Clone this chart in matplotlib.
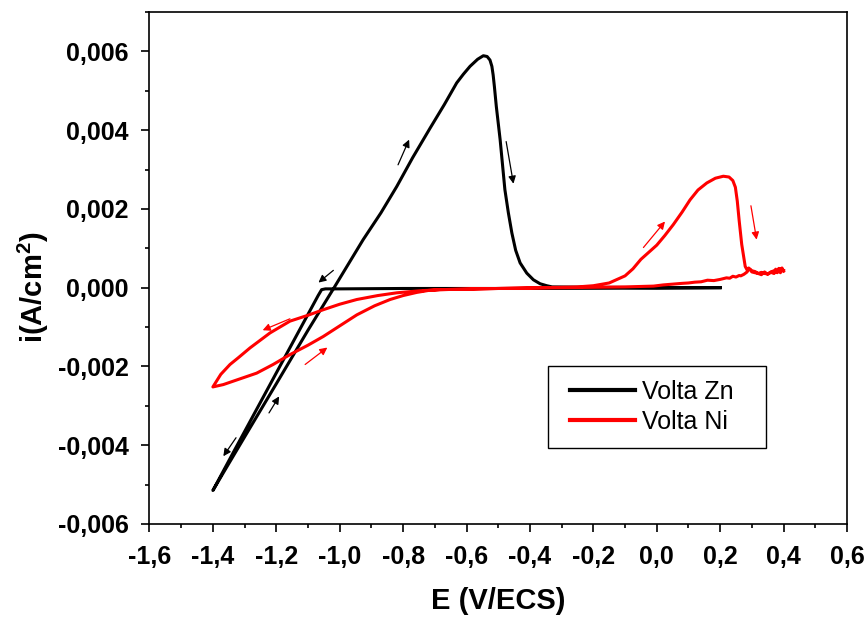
import matplotlib
matplotlib.use("Agg")
import matplotlib.pyplot as plt
from matplotlib.ticker import MultipleLocator, FuncFormatter
from matplotlib.lines import Line2D
from matplotlib.legend_handler import HandlerLine2D

plt.rcParams['font.family'] = ['Liberation Sans', 'DejaVu Sans']
plt.rcParams['mathtext.fontset'] = 'custom'
plt.rcParams['mathtext.rm'] = 'Liberation Sans:bold'
plt.rcParams['mathtext.bf'] = 'Liberation Sans:bold'
plt.rcParams['mathtext.default'] = 'bf'

# ---- Data: Volta Zn (black) ----
zn_E = [0.20, 0.00, -0.40, -0.80, -1.00, -1.045, -1.057, -1.068,
        -1.15, -1.25, -1.33, -1.40,
        -1.37, -1.30, -1.20, -1.10, -1.02, -0.926, -0.87, -0.82, -0.77, -0.715,
        -0.67, -0.631, -0.61, -0.589, -0.565, -0.547, -0.535, -0.526, -0.520,
        -0.516, -0.512, -0.506,
        -0.494, -0.479, -0.468, -0.457, -0.445, -0.431, -0.410, -0.389,
        -0.368, -0.347, -0.330, -0.20, 0.00, 0.20]
zn_i = [0.0, -0.00001, -0.00002, -0.00002, -0.00003, -0.00003, -0.00005, -0.00020,
        -0.00142, -0.00291, -0.00410, -0.00515,
        -0.00474, -0.00379, -0.00244, -0.00108, -0.00003, 0.00122, 0.00190, 0.00257,
        0.00330, 0.00405,
        0.00465, 0.00520, 0.00542, 0.00562, 0.00580, 0.00589, 0.00587, 0.00578,
        0.00562, 0.00540, 0.00510, 0.00460,
        0.00376, 0.00249, 0.00190, 0.00139, 0.00095, 0.00063, 0.00037, 0.00020,
        0.00010, 0.00005, 0.00002, 0.00001, 0.0, 0.0]

# ---- Data: Volta Ni (red) ----
ni_E = [0.40, 0.395, 0.39, 0.385, 0.38, 0.375, 0.37, 0.36, 0.35, 0.34, 0.33, 0.32,
        0.31, 0.30, 0.29, 0.285, 0.275, 0.265, 0.26, 0.25, 0.24, 0.23, 0.22, 0.20,
        0.18, 0.16, 0.14, 0.12, 0.10, 0.08, 0.05, 0.02, -0.01, -0.10, -0.30, -0.50,
        -0.684, -0.75, -0.82, -0.88, -0.946, -1.00, -1.052, -1.10, -1.157, -1.22,
        -1.283, -1.32, -1.346, -1.375, -1.40,
        -1.367, -1.32, -1.262, -1.21, -1.157, -1.10, -1.052, -1.00, -0.946, -0.89,
        -0.841, -0.80, -0.757, -0.72, -0.684, -0.50,
        -0.30, -0.25, -0.20, -0.15, -0.10, -0.075, -0.05, -0.025, 0.00, 0.025, 0.052,
        0.08, 0.105, 0.13, 0.158, 0.185, 0.21, 0.228, 0.240, 0.248, 0.254, 0.26,
        0.268, 0.279, 0.285, 0.294, 0.30, 0.31, 0.32, 0.33,
        0.34, 0.35, 0.36, 0.37, 0.38, 0.39, 0.40]
ni_i = [0.00042, 0.00050, 0.00038, 0.00049, 0.00040, 0.00047, 0.00036, 0.00039, 0.00034,
        0.00040, 0.00033, 0.00036, 0.00041, 0.00043, 0.00050, 0.00040, 0.00034, 0.00030,
        0.00031, 0.00027, 0.00029, 0.00024, 0.00025, 0.00021, 0.00018, 0.00019, 0.00015,
        0.00014, 0.00012, 0.00011, 0.00009, 0.00007, 0.00004, 0.00002, 0.0, -0.00002,
        -0.00005, -0.00008, -0.00013, -0.00020, -0.00030, -0.00042, -0.00056, -0.00070,
        -0.00085, -0.00115, -0.00153, -0.00178, -0.00195, -0.00220, -0.00252,
        -0.00246, -0.00233, -0.00217, -0.00195, -0.00170, -0.00146, -0.00124, -0.00097,
        -0.00069, -0.00046, -0.00030, -0.00020, -0.00012, -0.00007, -0.00005, -0.00002,
        0.00001, 0.00002, 0.00005, 0.00012, 0.00030, 0.00048, 0.00072, 0.00090, 0.00108,
        0.00132, 0.00160, 0.00192, 0.00223, 0.00248, 0.00266, 0.00278, 0.00283, 0.00281,
        0.00272, 0.00255, 0.00220, 0.00170, 0.00110, 0.00054, 0.00045, 0.00046, 0.00040,
        0.00038, 0.00036, 0.00039, 0.00036, 0.00035,
        0.00040, 0.00043, 0.00038, 0.00048, 0.00044]

# ---- Direction arrows: (tail E, tail i, head E, head i) ----
arrows_black = [(-0.816, 0.00312, -0.781, 0.00376),
                (-0.475, 0.00371, -0.452, 0.00264),
                (-1.020, 0.00044, -1.067, 0.00013),
                (-1.223, -0.00318, -1.191, -0.00276),
                (-1.327, -0.00381, -1.367, -0.00428)]
arrows_red = [(-1.157, -0.00079, -1.243, -0.00108),
              (-1.109, -0.00195, -1.039, -0.00152),
              (-0.042, 0.00102, 0.026, 0.00168),
              (0.297, 0.00208, 0.315, 0.00122)]

labels = ['Volta Zn', 'Volta Ni']
colors = ['black', '#ff0000']

fig = plt.figure(figsize=(8.64, 6.19), dpi=100)
ax = fig.add_axes([0.1730, 0.1535, 0.8073, 0.8271])

ax.plot(zn_E, zn_i, color=colors[0], lw=2.2, label=labels[0], solid_joinstyle='round')
ax.plot(ni_E, ni_i, color=colors[1], lw=2.2, label=labels[1], solid_joinstyle='round')

for arrs, c in ((arrows_black, colors[0]), (arrows_red, colors[1])):
    for (x0, y0, x1, y1) in arrs:
        ax.annotate('', xy=(x1, y1), xytext=(x0, y0),
                    arrowprops=dict(arrowstyle='-|>', color=c, lw=0.9,
                                    mutation_scale=11, shrinkA=0, shrinkB=0))

ax.set_xlim(-1.6, 0.6)
ax.set_ylim(-0.006, 0.007)
ax.xaxis.set_major_locator(MultipleLocator(0.2))
ax.xaxis.set_minor_locator(MultipleLocator(0.1))
ax.yaxis.set_minor_locator(MultipleLocator(0.001))
ax.set_yticks([-0.006, -0.004, -0.002, 0.0, 0.002, 0.004, 0.006])
ax.xaxis.set_major_formatter(FuncFormatter(lambda v, p: f"{v:.1f}".replace('.', ',').replace('-0,0', '0,0')))
ax.yaxis.set_major_formatter(FuncFormatter(lambda v, p: f"{v:.3f}".replace('.', ',').replace('-0,000', '0,000')))

for s in ax.spines.values():
    s.set_linewidth(1.2)
ax.tick_params(which='major', direction='out', length=6, width=1.2, labelsize=18)
ax.tick_params(which='minor', direction='out', length=3, width=1.2)
ax.tick_params(axis='x', pad=9)
ax.tick_params(axis='y', pad=9)
for lab in ax.get_xticklabels() + ax.get_yticklabels():
    lab.set_fontweight('bold')

ax.set_xlabel('E (V/ECS)', fontsize=21, fontweight='bold')
ax.set_ylabel(r'i(A/cm$^2$)', fontsize=21, fontweight='bold')
ax.xaxis.set_label_coords(0.5, -(601 - 524) / 512)
ax.xaxis.label.set_va('center')
ax.yaxis.set_label_coords(-0.1665, 0.463)
ax.yaxis.label.set_va('center')

leg = ax.legend(loc='upper left', bbox_to_anchor=(0.572, 0.1504, 0.3126, 0.1582),
                mode='expand', borderaxespad=0,
                handler_map={Line2D: HandlerLine2D(xpad=0.32)},
                fontsize=18, handlelength=2.92, handletextpad=0.28, labelspacing=0.25,
                borderpad=0.55, fancybox=False, framealpha=1, edgecolor='black')
leg.get_frame().set_linewidth(1.0)
for line in leg.get_lines():
    line.set_linewidth(3.0)

fig.savefig('out.png', dpi=100)
